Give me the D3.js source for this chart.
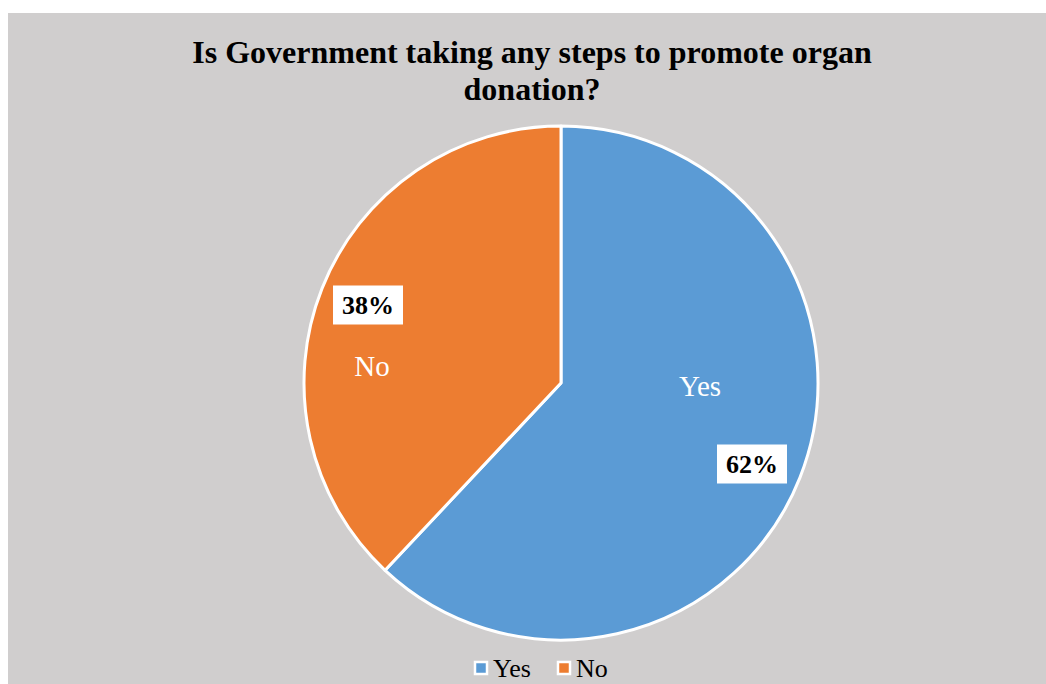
<!DOCTYPE html>
<html><head><meta charset="utf-8">
<script src="https://cdn.jsdelivr.net/npm/d3@7"></script>
<style>html,body{margin:0;padding:0;background:#fff;}svg{display:block;}</style>
</head><body>
<svg id="c" width="1046" height="684"></svg>
<script>
const categories = ["Yes", "No"];
const values = [62, 38];
const percentLabels = ["62%", "38%"];
const colors = ["#5B9BD5", "#ED7D31"];
const titleLines = ["Is Government taking any steps to promote organ", "donation?"];

const svg = d3.select("#c");
const W = 1046, H = 684;
svg.append("rect").attr("x", 8).attr("y", 13).attr("width", W - 8).attr("height", H - 13).attr("fill", "#D0CECE");

const font = "'Liberation Serif','Times New Roman',serif";
svg.append("g").selectAll("text").data(titleLines).join("text")
  .attr("x", 532).attr("y", (d, i) => 63 + i * 37)
  .attr("text-anchor", "middle").attr("font-family", font).attr("font-weight", "bold")
  .attr("font-size", 32).attr("fill", "#000").text(d => d);

const cx = 561, cy = 383, r = 257;
const data = categories.map((c, i) => ({ cat: c, value: values[i], label: percentLabels[i], color: colors[i] }));
const pie = d3.pie().sort(null).value(d => d.value);
const arcs = pie(data);
const arc = d3.arc().innerRadius(0).outerRadius(r);
const g = svg.append("g").attr("transform", `translate(${cx},${cy})`);
g.selectAll("path").data(arcs).join("path")
  .attr("d", arc).attr("fill", d => d.data.color)
  .attr("stroke", "#fff").attr("stroke-width", 3).attr("stroke-linejoin", "round");

// label positions (tuned to reference)
const catPos = [[700, 386], [372, 366]];
const pctPos = [[752, 464], [368, 305]];
arcs.forEach((a, i) => {
  const cxp = catPos[i][0] - cx, cyp = catPos[i][1] - cy;
  g.append("text").attr("x", cxp).attr("y", cyp + 10)
    .attr("text-anchor", "middle").attr("font-family", font).attr("font-size", 29)
    .attr("fill", "#fff").text(a.data.cat);
  const px = pctPos[i][0] - cx, py = pctPos[i][1] - cy;
  g.append("rect").attr("x", px - 35).attr("y", py - 19.5).attr("width", 70).attr("height", 39).attr("fill", "#fff");
  g.append("text").attr("x", px).attr("y", py + 9)
    .attr("text-anchor", "middle").attr("font-family", font).attr("font-weight", "bold").attr("font-size", 26)
    .attr("fill", "#000").text(a.data.label);
});

// legend
const legX = [475, 558];
const lg = svg.append("g");
data.forEach((d, i) => {
  lg.append("rect").attr("x", legX[i]).attr("y", 662).attr("width", 12).attr("height", 12)
    .attr("fill", d.color).attr("stroke", "#fff").attr("stroke-width", 2.5);
  lg.append("text").attr("x", legX[i] + 18).attr("y", 677).attr("font-family", font).attr("font-size", 26)
    .attr("fill", "#000").text(d.cat);
});
</script>
</body></html>
